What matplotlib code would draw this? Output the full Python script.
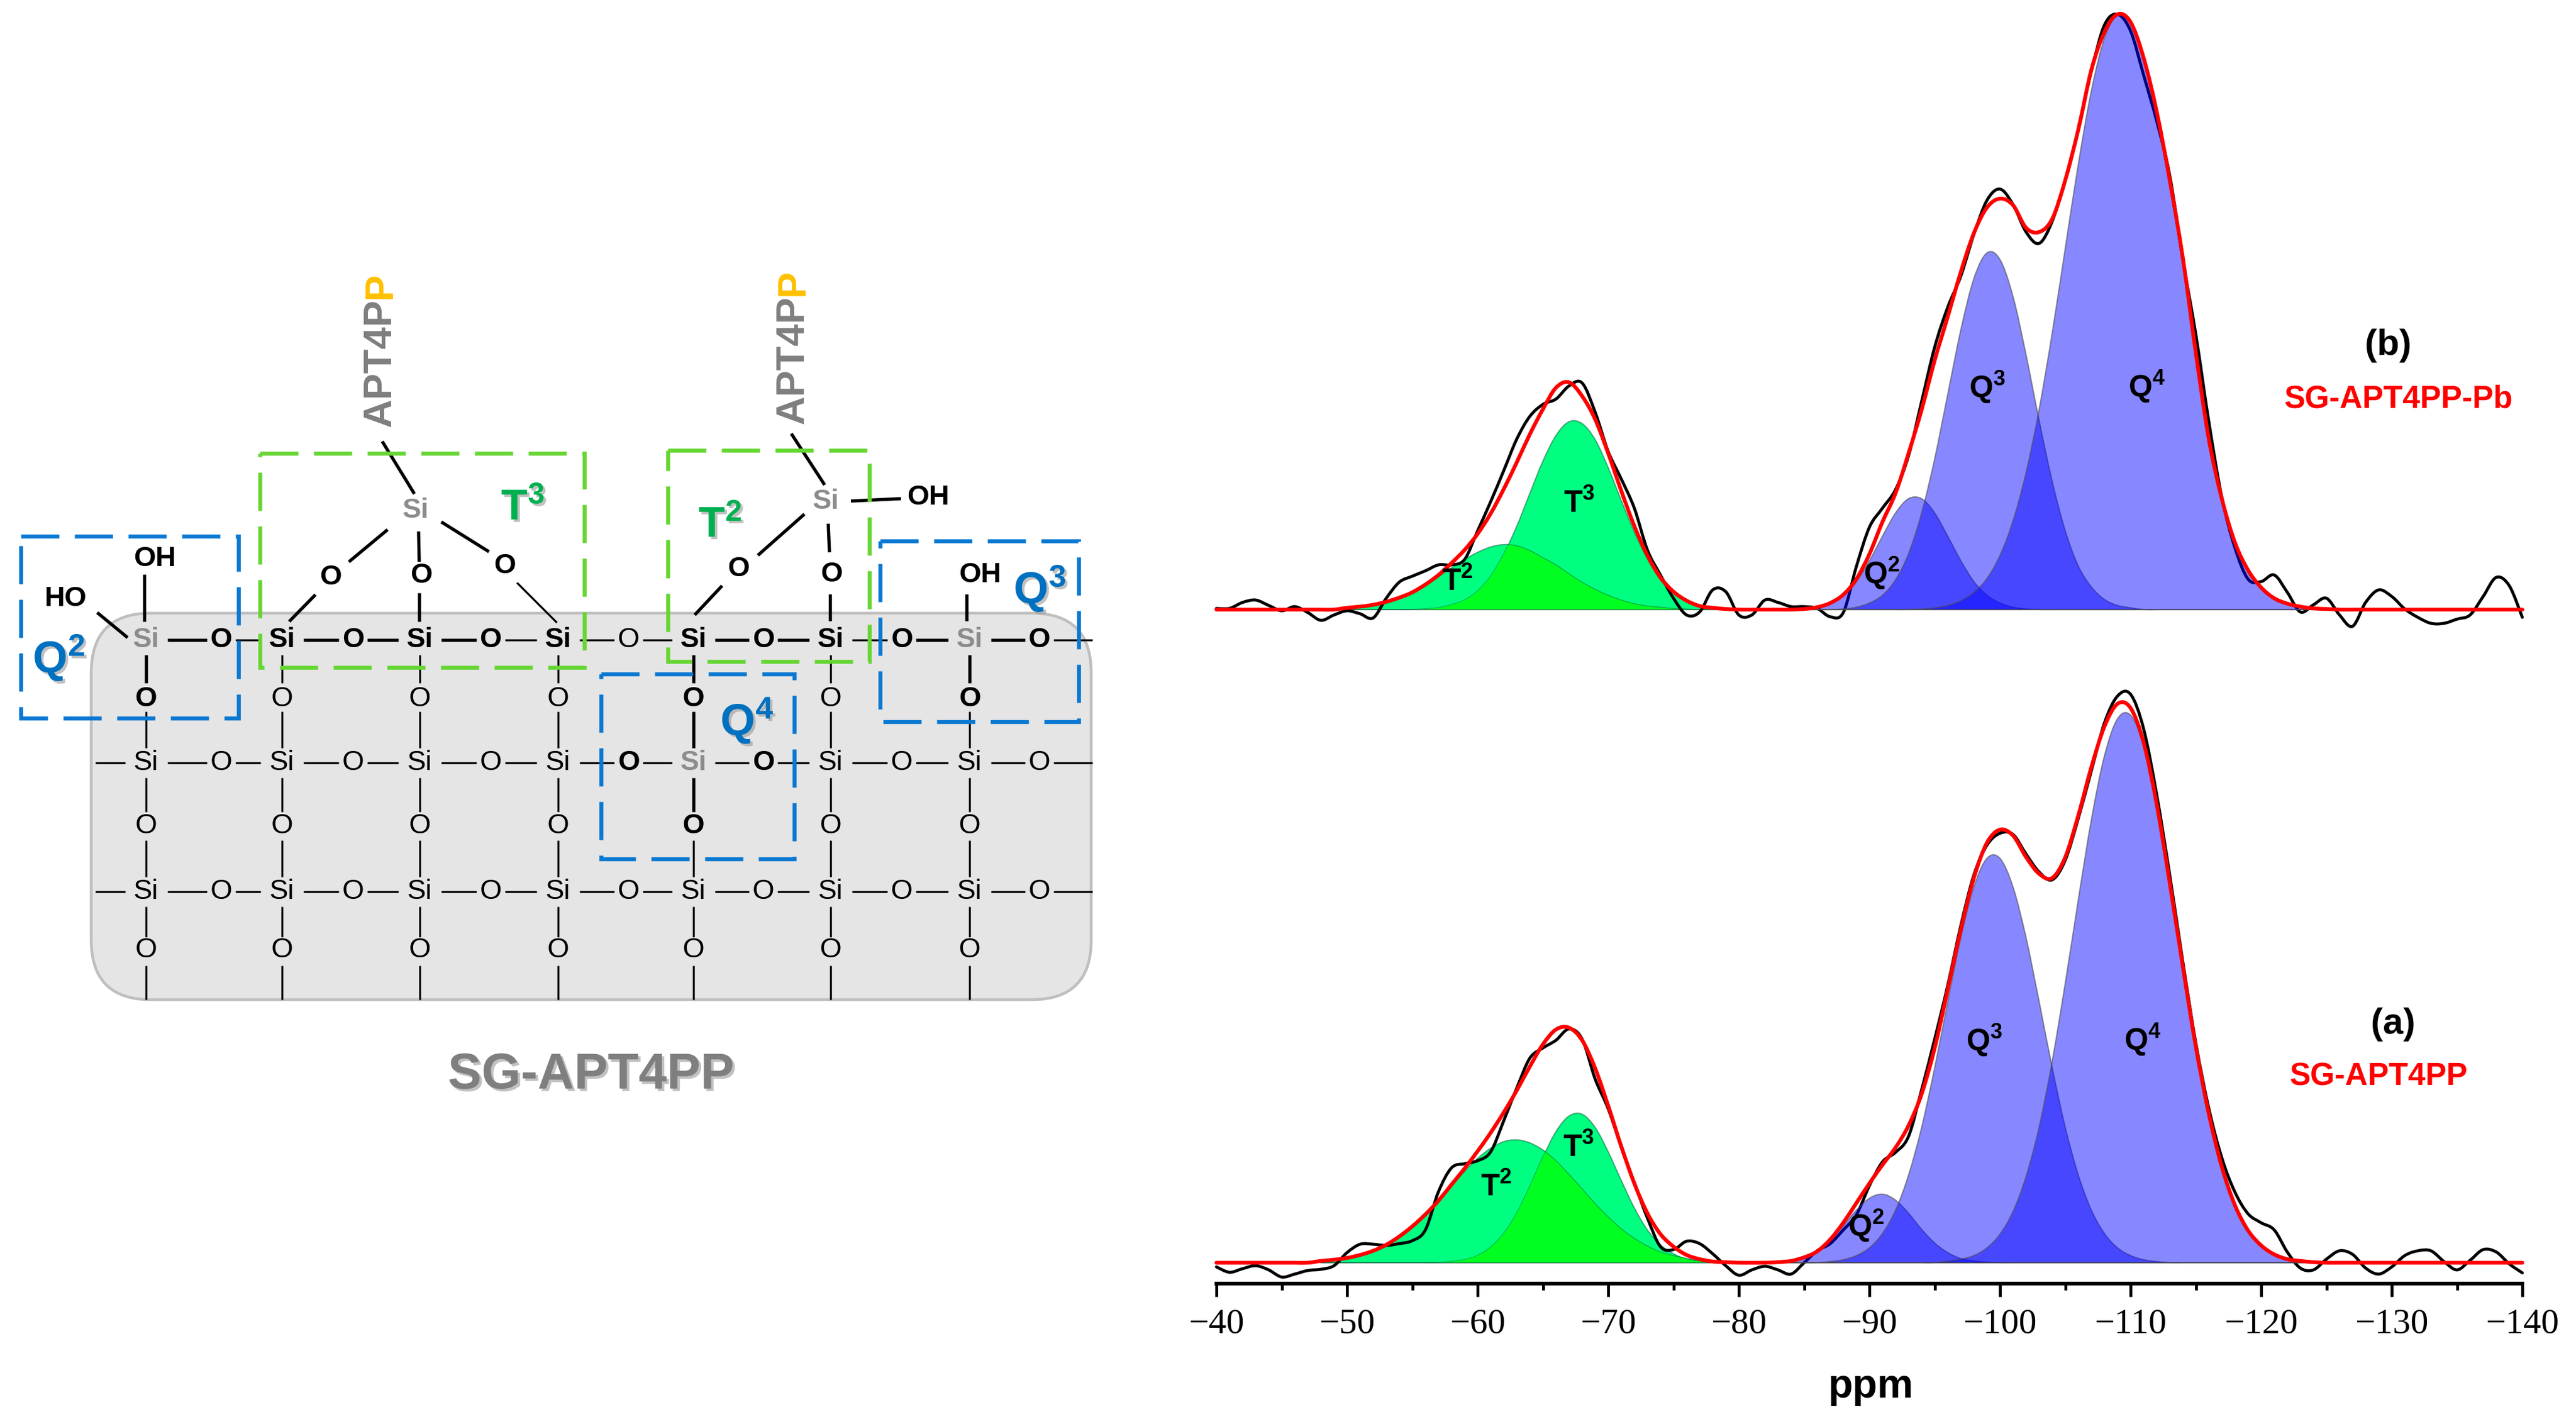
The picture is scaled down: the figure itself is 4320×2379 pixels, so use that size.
import numpy as np
import matplotlib
matplotlib.use('Agg')
import matplotlib.pyplot as plt
from matplotlib.patches import FancyBboxPatch, Rectangle, PathPatch
from matplotlib.path import Path
import matplotlib.patheffects as pe

plt.rcParams['font.family'] = ['Liberation Sans', 'DejaVu Sans']
plt.rcParams['mathtext.fontset'] = 'custom'
plt.rcParams['mathtext.rm'] = 'Liberation Sans'
plt.rcParams['mathtext.bf'] = 'Liberation Sans:bold'

W, H = 4320, 2379

# --- spectra: heights above each baseline, one value per ppm ---
ppm = np.arange(-40, -141, -1)
ppm_t = np.arange(-48, -80, -1)
ppm_q = np.arange(-83, -126, -1)

black_a = [-7, -16, -10, -5, -12, -24, -19, -13, -11, -5,
           17, 31, 31, 29, 32, 37, 55, 119, 159, 166,
           171, 186, 238, 293, 343, 360, 373, 392, 375, 308,
           258, 194, 134, 75, 27, 22, 36, 32, 15, -5,
           -21, -12, -6, -12, -19, 0, 20, 32, 55, 80,
           129, 169, 185, 212, 290, 375, 465, 565, 650, 700,
           720, 718, 685, 655, 642, 675, 745, 825, 905, 950,
           953, 895, 785, 650, 505, 368, 258, 175, 118, 82,
           67, 55, 18, -9, -12, 6, 20, 14, -9, -19,
           -7, 12, 20, 20, 2, -12, 4, 22, 18, -2,
           -17]
black_b = [2, 2, 12, 16, 7, -2, 5, -5, -18, -9,
           -2, -7, -14, 19, 46, 56, 65, 75, 75, 84,
           132, 181, 233, 286, 324, 344, 353, 375, 380, 331,
           265, 219, 170, 100, 58, 19, -9, -4, 33, 30,
           -9, -9, 16, 12, 5, 5, 2, -12, -5, 72,
           138, 170, 201, 258, 349, 440, 507, 559, 629, 686,
           705, 679, 633, 614, 651, 721, 805, 903, 980, 998,
           970, 896, 819, 728, 587, 461, 314, 187, 103, 51,
           47, 58, 29, -4, 8, 19, -9, -28, 12, 33,
           22, 1, -13, -23, -23, -16, -9, 22, 54, 40,
           -13]
fit_a = [0, 0, 0, 0, 0, 0, 0, 0, 3, 5,
         8, 13, 20, 30, 44, 61, 81, 104, 131, 158,
         187, 218, 252, 289, 329, 366, 391, 394, 373, 326,
         263, 195, 133, 83, 48, 27, 13, 6, 2, 1,
         0, 0, 0, 1, 3, 9, 19, 39, 67, 100,
         133, 164, 193, 230, 283, 360, 458, 558, 645, 704,
         726, 716, 680, 652, 645, 680, 750, 831, 899, 937,
         930, 872, 769, 637, 497, 362, 249, 160, 96, 54,
         29, 14, 6, 3, 1, 0, 0, 0, 0, 0,
         0, 0, 0, 0, 0, 0, 0, 0, 0, 0,
         0]
fit_b = [0, 0, 0, 0, 0, 0, 0, 0, 0, 0,
         3, 5, 8, 13, 20, 29, 42, 58, 78, 100,
         127, 161, 202, 247, 294, 336, 372, 381, 358, 319,
         262, 199, 140, 91, 54, 30, 15, 6, 3, 1,
         0, 0, 0, 0, 0, 1, 4, 11, 25, 51,
         93, 147, 195, 262, 335, 418, 491, 566, 631, 674,
         689, 678, 640, 633, 655, 720, 805, 905, 968, 998,
         985, 925, 835, 720, 590, 430, 285, 185, 112, 66,
         37, 19, 10, 5, 2, 1, 0, 0, 0, 0,
         0, 0, 0, 0, 0, 0, 0, 0, 0, 0,
         0]

t2_a = [3, 5, 8, 13, 20, 30, 44, 61, 81, 104, 129, 153, 175, 192, 203, 206,
        201, 189, 171, 148, 124, 99, 77, 57, 41, 28, 18, 12, 7, 4, 2, 1]
t3_a = [0] * 10 + [2, 5, 12, 26, 49, 83, 128, 177, 220, 246, 249, 227, 186, 138,
                   92, 55, 30, 15, 6, 2, 0, 0]
t2_b = [0, 1, 3, 5, 8, 13, 20, 29, 41, 55, 70, 84, 96, 105, 109, 107,
        99, 87, 75, 60, 46, 34, 24, 16, 10, 6, 4, 2, 1, 0, 0, 0]
t3_b = [0] * 8 + [1, 3, 8, 16, 31, 56, 93, 140, 195, 249, 292, 315, 312, 285,
                  238, 183, 130, 85, 50, 28, 14, 6, 3, 1]

q2_a = [1, 3, 9, 19, 37, 62, 88, 108, 115, 105, 83, 56, 33, 17, 7, 3, 1] + [0] * 26
q3_a = [0] * 4 + [2, 5, 12, 25, 49, 88, 147, 227, 327, 438, 545, 630, 678, 678,
                  630, 545, 438, 327, 227, 147, 88, 49, 25, 12, 5, 2] + [0] * 13
q4_a = [0] * 13 + [3, 6, 12, 25, 48, 86, 145, 228, 338, 469, 609, 743, 850, 912, 918,
                   867, 767, 637, 497, 362, 249, 160, 96, 54, 29, 14, 6, 3, 1, 0]
q2_b = [0, 0, 1, 4, 11, 24, 47, 82, 123, 162, 186, 186, 162, 123, 82, 47, 24, 11, 4, 1] + [0] * 23
q3_b = [0] * 5 + [1, 4, 11, 24, 50, 94, 162, 253, 361, 469, 555, 598, 587, 525, 427,
                  317, 215, 132, 73, 38, 17, 7, 3] + [0] * 15
q4_b = [0] * 11 + [1, 3, 7, 15, 29, 52, 91, 149, 230, 336, 464, 606, 747, 870, 958, 997,
                   985, 925, 835, 720, 590, 430, 285, 185, 112, 66, 37, 19, 10, 5, 2, 1]

# --- schematic atom columns / rows (picture pixels) ---
si_x = [245, 473, 704, 936, 1163, 1393, 1626]
o_x = [371, 592, 823, 1054, 1280, 1512, 1743]
row_si = [1073, 1279, 1495]
row_o = [1169, 1385, 1595]
bold_seg_row1 = [True, False, True, True, True, False, False, False, True, True, False, True, True, False]
green_boxes = [(436, 760, 980, 1119), (1120, 755, 1458, 1109)]
blue_boxes = [(35, 899, 400, 1204), (1476, 907, 1809, 1210), (1008, 1130, 1332, 1440)]


def curve(x, y):
    # bezier through the read points, no extra values
    x = np.asarray(x, float)
    y = np.asarray(y, float)
    p = np.column_stack([x, y])
    p = np.vstack([p[0], p, p[-1]])
    verts = [p[1]]
    codes = [Path.MOVETO]
    for i in range(1, len(p) - 2):
        verts += [p[i] + (p[i + 1] - p[i - 1]) / 6, p[i + 1] - (p[i + 2] - p[i]) / 6, p[i + 1]]
        codes += [Path.CURVE4] * 3
    return verts, codes


def line_patch(x, y, **kw):
    v, c = curve(x, y)
    return ax.add_patch(PathPatch(Path(v, c), fill=False, clip_on=False, capstyle='round', **kw))


def peak_patch(x, y, off, **kw):
    v, c = curve(x, off + np.array(y))
    v = v + [(x[-1], off), (x[0], off), (x[0], off)]
    c = c + [Path.LINETO, Path.LINETO, Path.CLOSEPOLY]
    return ax.add_patch(PathPatch(Path(v, c), **kw))


fig = plt.figure(figsize=(W / 100, H / 100), dpi=100)

# right panel, y is picture pixels above the (a) baseline
off_b = 1095
ax = fig.add_axes([2040 / W, 1 - 2152 / H, (4230 - 2040) / W, 2152 / H])
ax.patch.set_alpha(0)
ax.set_xlim(-40, -140)
ax.set_ylim(-35, 2117)
for s in ['top', 'left', 'right']:
    ax.spines[s].set_visible(False)
ax.spines['bottom'].set_linewidth(4.5)
ax.set_yticks([])
ax.set_xticks(np.arange(-40, -141, -10))
ax.set_xticks(np.arange(-45, -140, -10), minor=True)
ax.tick_params(axis='x', which='major', length=16, width=3.5, direction='out', pad=14)
ax.tick_params(axis='x', which='minor', length=8, width=3.5, direction='out')
for t in ax.get_xticklabels():
    t.set_family('Liberation Serif')
    t.set_fontsize(43)

edge_g = (0.0, 0.35, 0.2, 0.5)
edge_b = (0.3, 0.3, 0.3, 0.6)
for off, t2, t3, q2, q3, q4, blk, fit in [(0, t2_a, t3_a, q2_a, q3_a, q4_a, black_a, fit_a),
                                          (off_b, t2_b, t3_b, q2_b, q3_b, q4_b, black_b, fit_b)]:
    peak_patch(ppm_t, t2, off, facecolor='#00FF80', edgecolor=edge_g, lw=1.5, zorder=2)
    p3 = peak_patch(ppm_t, t3, off, facecolor='#00FF80', edgecolor=edge_g, lw=1.5, zorder=2)
    over = peak_patch(ppm_t, t2, off, facecolor='#00FF20', edgecolor=edge_g, lw=1.0, zorder=2)
    over.set_clip_path(p3)
    line_patch(ppm, off + np.array(blk), edgecolor='k', lw=3.6, zorder=3)
    for c in (q2, q3, q4):
        peak_patch(ppm_q, c, off, facecolor=(0, 0, 1, 0.47), edgecolor=edge_b, lw=1.5, zorder=4)
    line_patch(ppm, off + np.array(fit), edgecolor='#FF0000', lw=4.6, zorder=5)

# overlay in picture pixels for the schematic and all labels
ov = fig.add_axes([0, 0, 1, 1])
ov.patch.set_alpha(0)
ov.set_xlim(0, W)
ov.set_ylim(H, 0)
ov.axis('off')


def atom(x, y, s, bold=False, color='k', size=34, shadow=False):
    t = ov.text(x, y, s, ha='center', va='center', fontsize=size, color=color,
                fontweight='bold' if bold else 'normal', zorder=6)
    if shadow:
        t.set_path_effects([pe.withSimplePatchShadow(offset=(3, -3), shadow_rgbFace='#999999', alpha=0.6)])
    return t


def bond(x0, y0, x1, y1, bold=False):
    ov.plot([x0, x1], [y0, y1], color='k', lw=3.9 if bold else 2.4, solid_capstyle='butt', zorder=5)


ov.add_patch(FancyBboxPatch((153 + 100, 1028 + 100), 1677 - 200, 648 - 200, boxstyle='round,pad=100,rounding_size=100',
                            facecolor='#E5E5E5', edgecolor='#BFBFBF', lw=3.4, zorder=1))

# network rows
chain = [x for pair in zip(si_x, o_x) for x in pair]
for r, y in enumerate(row_si):
    for i in range(len(chain)):
        x0 = chain[i]
        x1 = chain[i + 1] if i + 1 < len(chain) else 1832
        g0 = 36 if i % 2 == 0 else 24
        g1 = 24 if i % 2 == 0 else 36
        if i + 1 == len(chain):
            g1 = 0
        bond(x0 + g0, y, x1 - g1, y, r == 0 and bold_seg_row1[i])
    if r > 0:
        bond(160, y, 210, y)
    for i, x in enumerate(si_x):
        gray = (r == 0 and i in (0, 6)) or (r == 1 and i == 4)
        atom(x, y, 'Si', bold=(r == 0 or gray), color='#8C8C8C' if gray else 'k')
    for i, x in enumerate(o_x):
        b = (r == 0 and i != 3) or (r == 1 and i in (3, 4))
        atom(x, y, 'O', bold=b)

for i, x in enumerate(si_x):
    b0 = i in (0, 4, 6)
    bond(x, 1098, x, 1145, b0)
    bond(x, 1193, x, 1254, b0 and i == 4)
    bond(x, 1304, x, 1361, i == 4)
    bond(x, 1409, x, 1470, False)
    bond(x, 1520, x, 1571, False)
    bond(x, 1619, x, 1676, False)
    atom(x, row_o[0] + 3, 'O', bold=b0)
    atom(x, row_o[1], 'O', bold=(i == 4))
    atom(x, row_o[2] - 2, 'O')

# T3 unit
atom(697, 856, 'Si', color='#8C8C8C', bold=True)
for x, y in [(554, 968), (706, 965), (846, 949)]:
    atom(x, y, 'O', bold=True)
bond(641, 740, 695, 828, True)
bond(650, 888, 585, 942, True)
bond(529, 997, 485, 1042, True)
bond(702, 891, 703, 942, True)
bond(703, 994, 703, 1042, True)
bond(740, 875, 820, 925, True)
bond(867, 977, 934, 1044)

# T2 unit
atom(1385, 841, 'Si', color='#8C8C8C', bold=True)
atom(1557, 834, 'OH', bold=True)
atom(1238, 954, 'O', bold=True)
atom(1394, 963, 'O', bold=True)
bond(1427, 840, 1511, 836, True)
bond(1327, 727, 1383, 813, True)
bond(1349, 862, 1271, 931, True)
bond(1211, 982, 1165, 1031, True)
bond(1389, 878, 1391, 926, True)
bond(1392, 996, 1392, 1041, True)

# Q2, Q3 hydroxyls
atom(110, 1004, 'HO', bold=True)
atom(260, 937, 'OH', bold=True)
bond(242, 963, 242, 1042, True)
bond(163, 1027, 214, 1069, True)
atom(1644, 964, 'OH', bold=True)
bond(1621, 996, 1621, 1041, True)

# APT4PP ligands
for x, y0 in [(638, 716), (1330, 711)]:
    ov.text(x, y0, 'APT4P', rotation=90, ha='center', va='bottom', fontsize=48, fontweight='bold',
            color='#7F7F7F', zorder=6)
    ov.text(x, y0 - 215, 'P', rotation=90, ha='center', va='bottom', fontsize=48, fontweight='bold',
            color='#FFC000', zorder=6)

# dashed site boxes
for (x0, y0, x1, y1) in green_boxes:
    ov.add_patch(Rectangle((x0, y0), x1 - x0, y1 - y0, fill=False, edgecolor='#66D633', lw=4.8,
                           linestyle=(0, (9.6, 3.9)), zorder=7))
for (x0, y0, x1, y1) in blue_boxes:
    ov.add_patch(Rectangle((x0, y0), x1 - x0, y1 - y0, fill=False, edgecolor='#0A78D2', lw=4.8,
                           linestyle=(0, (9.6, 3.9)), zorder=7))

for x, y, s in [(877, 852, r'$\mathbf{T^{3}}$'), (1208, 881, r'$\mathbf{T^{2}}$')]:
    atom(x, y, s, color='#00B050', size=52, shadow=True)
for x, y, s in [(99, 1103, r'$\mathbf{Q^{2}}$'), (1744, 987, r'$\mathbf{Q^{3}}$'), (1253, 1209, r'$\mathbf{Q^{4}}$')]:
    atom(x, y, s, color='#0070C0', size=54, shadow=True)

atom(991, 1803, 'SG-APT4PP', bold=True, color='#7F7F7F', size=61, shadow=True)

# spectrum labels
for x, y, s in [(2509, 1991, r'$\mathbf{T^{2}}$'), (2647, 1925, r'$\mathbf{T^{3}}$'),
                (3130, 2055, r'$\mathbf{Q^{2}}$'), (3328, 1744, r'$\mathbf{Q^{3}}$'), (3593, 1744, r'$\mathbf{Q^{4}}$'),
                (2444, 976, r'$\mathbf{T^{2}}$'), (2648, 845, r'$\mathbf{T^{3}}$'),
                (3156, 961, r'$\mathbf{Q^{2}}$'), (3333, 649, r'$\mathbf{Q^{3}}$'), (3600, 649, r'$\mathbf{Q^{4}}$')]:
    atom(x, y, s, size=37)
atom(4013, 1717, '(a)', bold=True, size=44)
atom(4005, 579, '(b)', bold=True, size=44)
atom(3989, 1805, 'SG-APT4PP', bold=True, color='#FF0000', size=38)
atom(4022, 669, 'SG-APT4PP-Pb', bold=True, color='#FF0000', size=38)
atom(3137, 2325, 'ppm', bold=True, size=49)

fig.savefig('out.png', dpi=100)
